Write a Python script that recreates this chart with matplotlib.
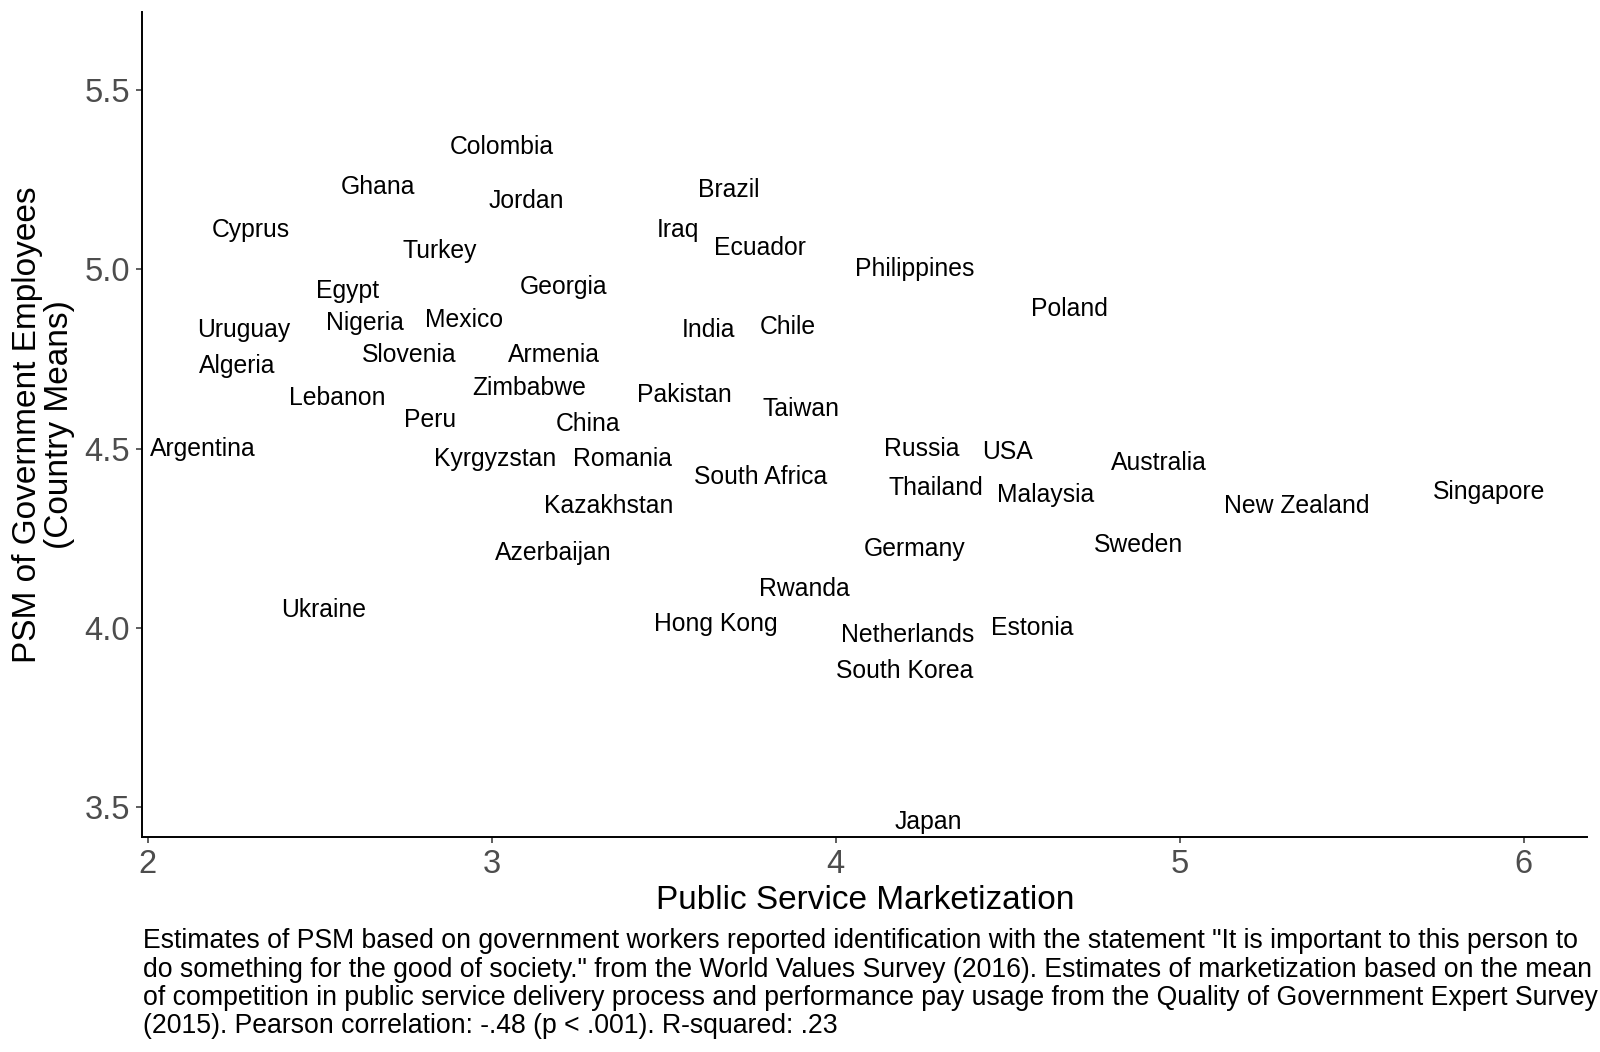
import matplotlib
matplotlib.use("Agg")
import matplotlib.pyplot as plt

plt.rcParams['font.family'] = ['Liberation Sans', 'DejaVu Sans']

countries = ["Colombia", "Ghana", "Jordan", "Brazil", "Cyprus", "Iraq", "Turkey", "Ecuador",
             "Philippines", "Egypt", "Georgia", "Poland", "Uruguay", "Nigeria", "Mexico", "India",
             "Chile", "Algeria", "Slovenia", "Armenia", "Lebanon", "Zimbabwe", "Pakistan", "Taiwan",
             "Peru", "China", "Argentina", "Kyrgyzstan", "Romania", "Russia", "USA", "Australia",
             "South Africa", "Thailand", "Malaysia", "Singapore", "New Zealand", "Kazakhstan",
             "Azerbaijan", "Germany", "Sweden", "Rwanda", "Ukraine", "Hong Kong", "Netherlands",
             "Estonia", "South Korea", "Japan"]
marketization = [3.03, 2.67, 3.10, 3.69, 2.30, 3.54, 2.85, 3.78,
                 4.23, 2.58, 3.21, 4.68, 2.28, 2.63, 2.92, 3.63,
                 3.86, 2.26, 2.76, 3.18, 2.55, 3.11, 3.56, 3.90,
                 2.82, 3.28, 2.16, 3.01, 3.38, 4.25, 4.50, 4.94,
                 3.78, 4.29, 4.61, 5.90, 5.34, 3.34,
                 3.18, 4.23, 4.88, 3.91, 2.51, 3.65, 4.21,
                 4.57, 4.20, 4.27]
psm = [5.34, 5.23, 5.19, 5.22, 5.11, 5.11, 5.05, 5.06,
       5.00, 4.94, 4.95, 4.89, 4.83, 4.85, 4.86, 4.83,
       4.84, 4.73, 4.76, 4.76, 4.64, 4.67, 4.65, 4.61,
       4.58, 4.57, 4.50, 4.47, 4.47, 4.50, 4.49, 4.46,
       4.42, 4.39, 4.37, 4.38, 4.34, 4.34,
       4.21, 4.22, 4.23, 4.11, 4.05, 4.01, 3.98,
       4.00, 3.88, 3.46]

x_ticks = [2, 3, 4, 5, 6]
y_ticks = [3.5, 4.0, 4.5, 5.0, 5.5]
y_ticklabels = ["3.5", "4.0", "4.5", "5.0", "5.5"]

caption_lines = [
    'Estimates of PSM based on government workers reported identification with the statement "It is important to this person to',
    'do something for the good of society." from the World Values Survey (2016). Estimates of marketization based on the mean',
    'of competition in public service delivery process and performance pay usage from the Quality of Government Expert Survey',
    '(2015). Pearson correlation: -.48 (p < .001). R-squared: .23',
]

W, H = 1600, 1052
fig = plt.figure(figsize=(16, 10.52), dpi=100)
left, right, bottom, top = 142 / W, 1587.4 / W, 1 - 836.7 / H, 1 - 12 / H
ax = fig.add_axes([left, bottom, right - left, top - bottom])

for name, xv, yv in zip(countries, marketization, psm):
    ax.text(xv, yv, name, ha='center', va='center', fontsize=17.8, color='black')

ax.set_xlim(1.983, 6.185)
ax.set_ylim(3.418, 5.7175)
ax.set_xticks(x_ticks)
ax.set_yticks(y_ticks)
ax.set_yticklabels(y_ticklabels)

for s in ['top', 'right']:
    ax.spines[s].set_visible(False)
for s in ['left', 'bottom']:
    ax.spines[s].set_linewidth(1.4)
    ax.spines[s].set_color('black')

ax.tick_params(axis='both', length=4.5, width=1.1, color='#333333',
               labelsize=23.5, labelcolor='#4D4D4D')
ax.tick_params(axis='x', pad=4)
ax.tick_params(axis='y', pad=4)

ax.set_xlabel("Public Service Marketization", fontsize=24, color='black')
ax.xaxis.label.set_va('baseline')
ax.xaxis.set_label_coords(0.5, -(909 - 836.7) / 824.7)

ax.set_ylabel("PSM of Government Employees\n(Country Means)", fontsize=24,
              color='black', linespacing=1.05)
ax.yaxis.set_label_coords(-(142 - 75) / 1445.4, 0.5)

for i, line in enumerate(caption_lines):
    fig.text(143 / W, 1 - (948.3 + i * 28.3) / H, line, fontsize=19.2,
             ha='left', va='baseline', color='black')

fig.savefig("out.png", dpi=100, facecolor='white')
